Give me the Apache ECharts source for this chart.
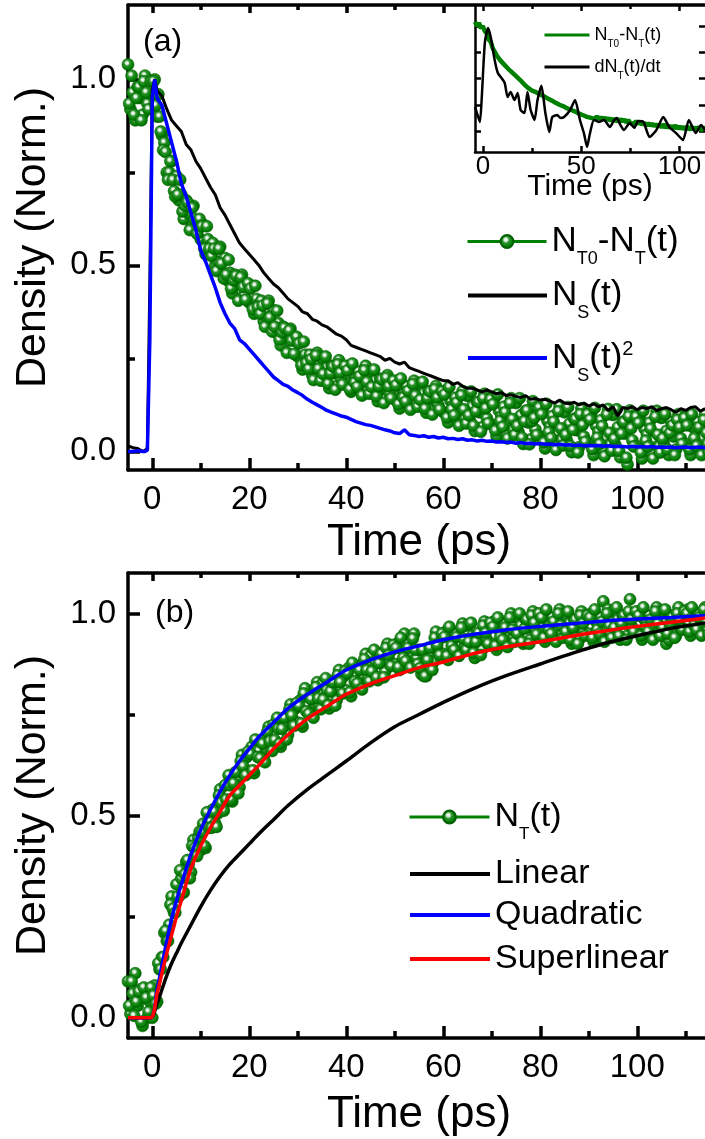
<!DOCTYPE html>
<html><head><meta charset="utf-8">
<script src="https://cdn.jsdelivr.net/npm/echarts@6/dist/echarts.min.js"></script>
<style>html,body{margin:0;padding:0;background:#fff}#c{width:705px;height:1139px}</style>
</head><body><div id="c"></div>
<script>
// ================= DATA =================
// Panel (a): singlet density N_S(t) and N_S(t)^2 (shared time base, ps)
const nsTime = [-5,-4,-3,-2,-1.5,-1,-0.5,0,0.5,1,
  2,3,4,5,6,7,8,9,10,11,12,13,14,15,16,17,18,19,20,21,22,23,24,25,26,27,28,29,30,31,
  32,33,34,35,36,37,38,39,40,41,42,43,44,45,46,47,48,49,50,51,52,53,54,55,56,57,58,59,60,61,
  62,63,64,65,66,67,68,69,70,71,72,73,74,75,76,77,78,79,80,81,82,83,84,85,86,87,88,89,90,91,
  92,93,94,95,96,97,98,99,100,101,102,103,104,105,106,107,108,109,110,111,112,113,114];
const nsValues = [0.015,0.01,0.008,0.0,0.002,0.01,0.45,0.97,1.0,0.97,
  0.955,0.92,0.89,0.875,0.86,0.825,0.81,0.78,0.76,0.735,
  0.71,0.69,0.655,0.635,0.61,0.585,0.56,0.545,0.53,0.515,
  0.50,0.48,0.465,0.45,0.44,0.425,0.41,0.40,0.39,0.375,
  0.37,0.355,0.35,0.34,0.335,0.325,0.315,0.31,0.30,0.285,
  0.28,0.275,0.27,0.265,0.26,0.255,0.245,0.25,0.24,0.235,
  0.24,0.225,0.22,0.215,0.21,0.205,0.20,0.195,0.19,0.19,
  0.18,0.185,0.175,0.17,0.17,0.165,0.16,0.165,0.16,0.155,
  0.158,0.15,0.152,0.148,0.145,0.15,0.14,0.142,0.138,0.14,
  0.135,0.13,0.138,0.13,0.128,0.132,0.125,0.13,0.122,0.128,
  0.12,0.125,0.11,0.12,0.095,0.118,0.115,0.12,0.112,0.118,
  0.115,0.12,0.11,0.115,0.118,0.112,0.105,0.115,0.11,0.118,
  0.12,0.108,0.115];
const ns2Values = [0.0,0.0,0.002,0.0,0.0,0.003,0.3,0.95,1.0,0.95,
  0.93,0.88,0.83,0.78,0.72,0.685,0.64,0.595,0.54,0.51,
  0.475,0.44,0.40,0.37,0.345,0.33,0.30,0.29,0.275,0.26,
  0.245,0.23,0.215,0.20,0.19,0.18,0.175,0.165,0.158,0.15,
  0.14,0.132,0.125,0.118,0.11,0.105,0.10,0.095,0.092,0.086,
  0.08,0.076,0.072,0.07,0.066,0.062,0.058,0.055,0.05,0.048,
  0.058,0.045,0.043,0.04,0.042,0.038,0.04,0.036,0.038,0.034,
  0.035,0.032,0.034,0.03,0.031,0.028,0.03,0.027,0.028,0.025,
  0.026,0.024,0.025,0.022,0.024,0.021,0.022,0.02,0.021,0.019,
  0.02,0.018,0.019,0.017,0.018,0.016,0.017,0.015,0.016,0.015,
  0.016,0.014,0.015,0.013,0.014,0.013,0.012,0.014,0.012,0.013,
  0.012,0.013,0.011,0.012,0.011,0.012,0.01,0.011,0.012,0.01,
  0.011,0.012,0.01];
// Panel (a): N_T0 - N_T(t); two interleaved read-outs, each every 0.5 ps
const greenStep = 0.5;
const ntDiffStart = -5;
const ntDiffValues = [
  1.04,0.92,0.965,0.89,0.98,0.95,0.905,1.01,0.935,0.98,
  0.96,1.0,0.90,0.90,0.85,0.83,0.75,0.75,0.78,0.70,
  0.74,0.675,0.69,0.625,0.675,0.64,0.60,0.66,0.60,0.62,
  0.57,0.61,0.53,0.57,0.55,0.56,0.50,0.51,0.55,0.48,
  0.52,0.46,0.48,0.425,0.475,0.45,0.41,0.475,0.42,0.445,
  0.40,0.445,0.37,0.41,0.395,0.405,0.35,0.36,0.405,0.335,
  0.38,0.32,0.345,0.285,0.335,0.31,0.27,0.33,0.275,0.30,
  0.255,0.295,0.22,0.26,0.245,0.26,0.205,0.22,0.265,0.20,
  0.25,0.195,0.225,0.17,0.23,0.21,0.175,0.245,0.195,0.22,
  0.18,0.23,0.16,0.205,0.195,0.215,0.16,0.18,0.23,0.165,
  0.215,0.16,0.19,0.135,0.195,0.17,0.14,0.205,0.155,0.18,
  0.14,0.19,0.115,0.165,0.155,0.175,0.12,0.14,0.19,0.13,
  0.18,0.128,0.156,0.104,0.162,0.14,0.108,0.176,0.124,0.152,
  0.106,0.164,0.078,0.136,0.122,0.144,0.082,0.104,0.162,0.088,
  0.149,0.083,0.121,0.055,0.132,0.105,0.065,0.155,0.089,0.127,
  0.072,0.14,0.041,0.109,0.094,0.12,0.048,0.075,0.143,0.058,
  0.13,0.053,0.097,0.02,0.109,0.078,0.032,0.135,0.059,0.103,
  0.04,0.114,0.008,0.082,0.066,0.095,0.019,0.048,0.122,0.031,
  0.105,0.029,0.074,-0.002,0.088,0.057,0.011,0.116,0.04,0.085,
  0.023,0.102,-0.01,0.069,0.053,0.084,0.004,0.035,0.114,0.018,
  0.098,0.017,0.065,-0.016,0.08,0.048,-0.035,0.11,0.03,0.077,
  0.013,0.093,-0.019,0.061,0.045,0.077,-0.003,0.029,0.109,0.013,
  0.09,0.02,0.055,-0.01,0.08,0.04,0.005,0.10,0.035,0.07,
  0.02,0.085,-0.01,0.065,0.04,0.08,0.0,0.035,0.10,0.02];
const ntDiffMidStart = -4.75;
const ntDiffMidValues = [
  0.935,1.01,0.905,0.95,0.98,0.89,0.995,0.965,0.92,0.995,
  0.995,0.93,0.96,0.86,0.81,0.805,0.73,0.78,0.73,0.685,
  0.69,0.73,0.645,0.66,0.67,0.595,0.655,0.625,0.585,0.625,
  0.605,0.545,0.605,0.545,0.525,0.545,0.485,0.545,0.505,0.465,
  0.475,0.515,0.438,0.46,0.472,0.405,0.468,0.442,0.408,0.452,
  0.438,0.382,0.445,0.388,0.37,0.392,0.335,0.398,0.36,0.322,
  0.335,0.378,0.30,0.32,0.332,0.265,0.325,0.298,0.262,0.308,
  0.29,0.232,0.295,0.238,0.222,0.248,0.192,0.258,0.222,0.19,
  0.208,0.255,0.182,0.21,0.228,0.166,0.234,0.212,0.18,0.23,
  0.218,0.167,0.236,0.185,0.174,0.202,0.15,0.218,0.187,0.155,
  0.173,0.22,0.148,0.175,0.193,0.13,0.198,0.175,0.143,0.19,
  0.178,0.127,0.196,0.145,0.134,0.163,0.112,0.181,0.15,0.12,
  0.139,0.187,0.115,0.143,0.161,0.099,0.167,0.145,0.113,0.161,
  0.153,0.091,0.173,0.113,0.097,0.131,0.069,0.151,0.113,0.075,
  0.097,0.161,0.069,0.108,0.133,0.053,0.143,0.116,0.076,0.14,
  0.127,0.056,0.153,0.082,0.066,0.105,0.035,0.13,0.087,0.044,
  0.069,0.143,0.037,0.081,0.11,0.019,0.081,0.09,0.044,0.118,
  0.10,0.024,0.128,0.052,0.036,0.08,0.004,0.108,0.062,0.016,
  0.045,0.119,0.014,0.058,0.087,-0.003,0.10,0.071,0.026,0.10,
  0.086,0.006,0.117,0.037,0.02,0.068,-0.013,0.099,0.05,0.002,
  0.034,0.113,0.001,0.048,0.079,-0.017,0.094,0.062,0.013,0.093,
  0.077,-0.003,0.109,0.029,0.013,0.061,-0.019,0.093,0.045,-0.003,
  0.035,0.10,0.005,0.05,0.07,-0.01,0.085,0.065,0.02,0.09,
  0.07,0.005,0.10,0.035,0.015,0.065,-0.01,0.085,0.05,0.0];
// Panel (b): N_T(t); two interleaved read-outs, each every 0.5 ps
const ntStart = -5;
const ntValues = [
  0.09,0.01,0.06,0.11,0.03,0.07,-0.02,0.05,0.0,0.04,
  0.0,0.08,0.04,0.12,0.15,0.21,0.19,0.23,0.30,0.26,
  0.33,0.30,0.345,0.31,0.385,0.38,0.36,0.44,0.405,0.445,
  0.415,0.48,0.42,0.485,0.485,0.515,0.48,0.505,0.565,0.52,
  0.575,0.535,0.575,0.535,0.605,0.59,0.57,0.65,0.605,0.645,
  0.61,0.67,0.605,0.66,0.66,0.685,0.64,0.665,0.72,0.67,
  0.725,0.68,0.715,0.67,0.74,0.725,0.70,0.775,0.73,0.765,
  0.73,0.785,0.72,0.815,0.77,0.795,0.75,0.775,0.83,0.77,
  0.825,0.78,0.81,0.765,0.83,0.81,0.785,0.86,0.81,0.845,
  0.81,0.865,0.795,0.85,0.845,0.87,0.82,0.845,0.90,0.84,
  0.895,0.85,0.88,0.835,0.90,0.88,0.855,0.925,0.88,0.91,
  0.875,0.925,0.86,0.91,0.95,0.925,0.875,0.90,0.95,0.89,
  0.91,0.85,0.845,0.845,0.915,0.90,0.88,0.955,0.905,0.94,
  0.90,0.955,0.885,0.94,0.93,0.95,0.905,0.925,0.975,0.92,
  0.97,0.92,0.945,0.89,0.95,0.935,0.91,0.98,0.935,0.965,
  0.925,0.98,0.91,0.96,0.955,0.975,0.925,0.95,1.0,0.94,
  0.99,0.94,0.97,0.925,0.985,0.965,0.935,1.005,0.96,0.99,
  0.95,1.0,0.93,0.98,0.97,0.99,0.94,0.96,1.01,0.95,
  0.995,0.945,0.975,0.925,0.985,0.965,0.935,1.005,0.955,0.985,
  0.95,1.0,0.93,0.98,0.97,0.99,1.03,0.96,1.01,0.95,
  1.005,0.955,0.985,0.935,0.995,0.975,0.945,1.035,0.965,0.995,
  0.955,1.005,0.935,0.985,0.975,0.995,0.945,0.965,1.015,0.955,
  1.005,0.955,0.925,0.935,0.995,0.975,0.945,1.015,0.965,0.995,
  0.96,1.01,0.945,0.99,0.98,1.0,0.95,0.97,1.015,0.96];
const ntMidStart = -4.75;
const ntMidValues = [
  0.03,0.09,0.005,0.04,0.065,-0.01,0.075,0.05,0.015,0.075,
  0.055,0.035,0.135,0.12,0.15,0.215,0.19,0.28,0.27,0.26,
  0.30,0.365,0.31,0.355,0.39,0.345,0.425,0.42,0.40,0.46,
  0.46,0.425,0.508,0.47,0.47,0.51,0.472,0.55,0.532,0.512,
  0.54,0.60,0.54,0.58,0.608,0.555,0.635,0.622,0.60,0.658,
  0.653,0.612,0.688,0.645,0.642,0.678,0.632,0.708,0.684,0.66,
  0.687,0.742,0.678,0.715,0.742,0.688,0.762,0.748,0.722,0.778,
  0.772,0.728,0.802,0.758,0.752,0.788,0.742,0.818,0.79,0.763,
  0.787,0.84,0.773,0.807,0.83,0.772,0.847,0.83,0.802,0.857,
  0.852,0.805,0.878,0.832,0.827,0.86,0.812,0.887,0.86,0.832,
  0.857,0.91,0.842,0.877,0.90,0.842,0.915,0.897,0.87,0.922,
  0.915,0.867,0.94,0.89,0.882,0.915,0.866,0.938,0.91,0.875,
  0.865,0.91,0.845,0.885,0.915,0.86,0.94,0.922,0.897,0.95,
  0.942,0.895,0.967,0.92,0.91,0.942,0.895,0.965,0.937,0.91,
  0.93,0.977,0.902,0.93,0.952,0.897,0.97,0.952,0.925,0.977,
  0.967,0.92,0.99,0.942,0.935,0.965,0.917,0.99,0.96,0.93,
  0.95,1.0,0.93,0.962,0.985,0.925,0.995,0.977,0.948,1.0,
  0.99,0.94,1.01,0.96,0.95,0.98,0.93,1.0,0.97,0.94,
  0.955,1.005,0.935,0.965,0.985,0.925,0.995,0.975,0.945,0.995,
  0.99,0.94,1.01,0.96,0.95,0.98,0.93,1.0,0.97,0.94,
  0.965,1.015,0.945,0.975,0.995,0.935,1.005,0.985,0.955,1.005,
  0.995,0.945,1.015,0.965,0.955,0.985,0.935,1.005,0.975,0.945,
  0.965,1.01,0.95,0.975,0.99,0.94,1.0,0.985,0.96,1.005,
  1.0,0.955,1.015,0.97,0.96,0.99,0.945,1.01,0.98,0.95];
// Panel (b): model curves
const fitTime = [-5,-0.4,1,2,3,4,5,6,8,10,12,14,16,18,20,22,25,28,32,36,40,45,50,55,60,66,72,80,87,94,100,107,115];
const linearFit = [0,0,0.035,0.07,0.105,0.135,0.16,0.185,0.23,0.275,0.315,0.35,0.38,0.405,0.43,0.455,0.49,0.525,0.565,0.60,0.635,0.68,0.72,0.75,0.78,0.813,0.842,0.875,0.903,0.928,0.945,0.963,0.978];
const quadraticFit = [0,0,0.07,0.13,0.19,0.245,0.29,0.33,0.405,0.465,0.515,0.56,0.60,0.635,0.665,0.695,0.73,0.765,0.80,0.83,0.86,0.885,0.905,0.92,0.935,0.948,0.958,0.968,0.975,0.982,0.986,0.99,0.995];
const superlinearFit = [0,0,0.06,0.11,0.16,0.205,0.25,0.29,0.37,0.425,0.47,0.51,0.55,0.575,0.60,0.625,0.665,0.70,0.74,0.77,0.80,0.826,0.846,0.866,0.88,0.90,0.915,0.93,0.945,0.958,0.968,0.978,0.99];
// Inset: N_T0-N_T(t) every 1 ps from -4 ps, and dN_T(t)/dt
const insetStart = -4, insetStep = 1;
const insetDiff = [1.04,1.0,1.03,0.98,1.0,0.95,0.93,0.87,0.85,0.79,
  0.78,0.72,0.71,0.67,0.67,0.63,0.63,0.59,0.595,0.555,
  0.56,0.52,0.52,0.485,0.485,0.445,0.445,0.41,0.42,0.385,
  0.395,0.37,0.38,0.35,0.365,0.33,0.34,0.31,0.32,0.29,
  0.30,0.27,0.28,0.25,0.26,0.235,0.245,0.215,0.23,0.20,
  0.21,0.185,0.195,0.165,0.18,0.15,0.165,0.135,0.15,0.125,
  0.14,0.115,0.14,0.11,0.135,0.105,0.13,0.10,0.125,0.095,
  0.12,0.09,0.12,0.085,0.115,0.09,0.11,0.08,0.105,0.075,
  0.09,0.07,0.095,0.065,0.09,0.06,0.08,0.05,0.075,0.05,
  0.07,0.045,0.065,0.04,0.06,0.035,0.065,0.03,0.055,0.03,
  0.05,0.025,0.055,0.02,0.045,0.02,0.04,0.015,0.045,0.01,
  0.04,0.015,0.035,0.01,0.04,0.005,0.035,0.015];
const dntTime = [-4,-3,-1.5,-0.5,1,2.6,4,6,7.6,9.1,11.1,12.6,14.1,16.1,17.7,19.2,21.2,22.7,24.3,26.3,27.8,29.8,31.8,33.8,35.3,37.8,39.5,41.3,44.4,46.9,49.4,51.4,53,54.5,56.5,59,61.6,64.6,66.5,68.1,70,71.7,74.7,77,79,81.7,84.8,88.3,91.8,94.8,98.3,101.8,104.8,108.3,111,113];
const dntValues = [0.23,0.17,0.086,0.34,0.84,0.98,0.895,0.676,0.552,0.514,0.457,0.324,0.371,0.295,0.362,0.2,0.171,0.371,0.2,0.105,0.295,0.43,0.171,-0.01,0.133,0.152,0.124,0.133,0.2,0.295,0.105,-0.02,-0.152,-0.02,0.105,0.086,0.105,0.038,0.095,0.124,0.057,0.01,0.076,0.03,0.095,0.086,-0.057,0.01,0.133,0.038,-0.02,-0.086,0.105,-0.02,0.057,0.01];
// Tick positions / labels
const xMajor = [0,20,40,60,80,100];
const xMinor = [10,30,50,70,90,110];
const xTopMajorA = [0,20,40,60];
const xTopMinorA = [10,30,50];
const yMajor = [0,0.5,1.0];
const yMinor = [0.25,0.75];
const insetXMajor = [0,50,100];
const insetXMinor = [25,75];
const insetYTicks = [0,0.25,0.5,0.75,1.0];

// ================= CHART =================
const FONT = "'Liberation Sans', Arial, Helvetica, sans-serif";
const GREEN = '#008000';
const zip = (xs, ys) => xs.map((x, i) => [x, ys[i]]);
const sampled = (start, step, ys) => ys.map((y, i) => [+(start + i * step).toFixed(2), y]);

function axis(o) {
  return {
    type: 'value', gridIndex: o.grid, position: o.pos, min: o.min, max: o.max,
    axisLine: {show: !!o.line, onZero: false, lineStyle: {color: '#000', width: o.lw}},
    axisTick: {show: true, inside: true, length: o.len, customValues: o.ticks,
               lineStyle: {color: '#000', width: o.lw}},
    axisLabel: o.labels ? Object.assign({show: true, customValues: o.labels, color: '#000',
               fontFamily: FONT}, o.labelStyle) : {show: false},
    splitLine: {show: false}, minorTick: {show: false}, minorSplitLine: {show: false},
    name: o.name || '', nameLocation: 'middle', nameGap: o.nameGap || 0, nameMoveOverlap: false,
    nameTextStyle: {color: '#000', fontFamily: FONT, fontSize: o.nameSize || 12},
    silent: true
  };
}
const LW = 3.5, ILW = 2.5;
const xAxes = [
  // grid 0 (a)
  axis({grid:0,pos:'bottom',min:-5,max:115,line:true,lw:LW,len:12,ticks:xMajor,labels:xMajor,
        labelStyle:{fontSize:33,margin:13},name:'Time (ps)',nameGap:51,nameSize:44}),
  axis({grid:0,pos:'bottom',min:-5,max:115,lw:LW,len:7,ticks:xMinor}),
  axis({grid:0,pos:'top',min:-5,max:115,line:true,lw:LW,len:8,ticks:xTopMajorA}),
  axis({grid:0,pos:'top',min:-5,max:115,lw:LW,len:5,ticks:xTopMinorA}),
  // grid 1 (b)
  axis({grid:1,pos:'bottom',min:-5,max:115,line:true,lw:LW,len:12,ticks:xMajor,labels:xMajor,
        labelStyle:{fontSize:33,margin:13},name:'Time (ps)',nameGap:55,nameSize:44}),
  axis({grid:1,pos:'bottom',min:-5,max:115,lw:LW,len:7,ticks:xMinor}),
  axis({grid:1,pos:'top',min:-5,max:115,line:true,lw:LW,len:8,ticks:xMajor}),
  axis({grid:1,pos:'top',min:-5,max:115,lw:LW,len:5,ticks:xMinor}),
  // grid 2 (inset)
  axis({grid:2,pos:'bottom',min:-4,max:113,line:true,lw:ILW,len:6,ticks:insetXMajor,labels:insetXMajor,
        labelStyle:{fontSize:26,margin:2},name:'Time (ps)',nameGap:20,nameSize:30}),
  axis({grid:2,pos:'bottom',min:-4,max:113,lw:ILW,len:4,ticks:insetXMinor}),
  axis({grid:2,pos:'top',min:-4,max:113,lw:ILW,len:6,ticks:insetXMajor}),
  axis({grid:2,pos:'top',min:-4,max:113,lw:ILW,len:4,ticks:insetXMinor})
];
const yFmt = v => Number(v).toFixed(1);
const yAxes = [
  axis({grid:0,pos:'left',min:-0.05,max:1.2,line:true,lw:LW,len:12,ticks:yMajor,labels:yMajor,
        labelStyle:{fontSize:33,margin:12,formatter:yFmt},name:'Density (Norm.)',nameGap:73,nameSize:43}),
  axis({grid:0,pos:'left',min:-0.05,max:1.2,lw:LW,len:7,ticks:yMinor}),
  axis({grid:1,pos:'left',min:-0.05,max:1.1,line:true,lw:LW,len:12,ticks:yMajor,labels:yMajor,
        labelStyle:{fontSize:33,margin:12,formatter:yFmt},name:'Density (Norm.)',nameGap:73,nameSize:43}),
  axis({grid:1,pos:'left',min:-0.05,max:1.1,lw:LW,len:7,ticks:yMinor}),
  axis({grid:2,pos:'left',min:-0.2,max:1.2,line:true,lw:ILW,len:6,ticks:insetYTicks}),
  axis({grid:2,pos:'right',min:-0.2,max:1.2,lw:ILW,len:6,ticks:insetYTicks})
];

const ball = {
  color: {type:'radial', x:0.42, y:0.38, r:0.62, colorStops:[
    {offset:0, color:'#ffffff'}, {offset:0.18, color:'#d8ecd8'}, {offset:0.38, color:'#2e922e'},
    {offset:0.75, color:'#008000'}, {offset:1, color:'#005c00'}]},
  borderColor:'#006000', borderWidth:0.6
};
function lineSeries(name, data, xi, yi, color, width, z, extra) {
  return Object.assign({type:'line', name, data, xAxisIndex:xi, yAxisIndex:yi, symbol:'none',
    lineStyle:{color, width}, itemStyle:{color}, z, silent:true, animation:false, clip:true}, extra || {});
}
function ballSeries(name, data, xi, yi) {
  return {type:'line', name, data, xAxisIndex:xi, yAxisIndex:yi, symbol:'circle', symbolSize:12,
    showSymbol:true, showAllSymbol:true, lineStyle:{width:0, color:GREEN}, itemStyle:ball, z:2,
    silent:true, animation:false};
}

const series = [
  ballSeries('gA', sampled(ntDiffStart, greenStep, ntDiffValues)
                     .concat(sampled(ntDiffMidStart, greenStep, ntDiffMidValues)), 0, 0),
  lineSeries('nsA', zip(nsTime, nsValues), 0, 0, '#000000', 3, 3),
  lineSeries('ns2A', zip(nsTime, ns2Values), 0, 0, '#0000ff', 3.5, 4),
  ballSeries('gB', sampled(ntStart, greenStep, ntValues)
                     .concat(sampled(ntMidStart, greenStep, ntMidValues)), 4, 2),
  lineSeries('linB', zip(fitTime, linearFit), 4, 2, '#000000', 3.5, 3, {smooth:0.3}),
  lineSeries('quadB', zip(fitTime, quadraticFit), 4, 2, '#0000ff', 3.5, 4, {smooth:0.3}),
  lineSeries('supB', zip(fitTime, superlinearFit), 4, 2, '#ff0000', 3.5, 5, {smooth:0.3}),
  lineSeries('gI', sampled(insetStart, insetStep, insetDiff), 8, 4, GREEN, 4.5, 3),
  lineSeries('dI', zip(dntTime, dntValues), 8, 4, '#000000', 2.5, 4, {smooth:0.2})
];

const LABELS = {
  gA:'{m|N}{s|T0}{m|-N}{s|T}{m|(t)}', nsA:'{m|N}{s|S}{m|(t)}', ns2A:'{m|N}{s|S}{m|(t)}{p|2}',
  gB:'{m|N}{s|T}{m|(t)}', linB:'{m|Linear}', quadB:'{m|Quadratic}', supB:'{m|Superlinear}',
  gI:'{m|N}{s|T0}{m|-N}{s|T}{m|(t)}', dI:'{m|dN}{s|T}{m|(t)/dt}'
};
function richSet(main, sub, shift, sup, supShift) {
  return {
    m:{fontSize:main, fontFamily:FONT, color:'#000', verticalAlign:'middle'},
    s:{fontSize:sub, fontFamily:FONT, color:'#000', verticalAlign:'middle', padding:[shift*2,0,0,0]},
    p:{fontSize:sup || sub, fontFamily:FONT, color:'#000', verticalAlign:'middle', padding:[0,0,(supShift||0)*2,0]}
  };
}
function legendItem(name, left, top, w, rich, lineW, color, withBall) {
  return {
    show:true, orient:'vertical', left, top, padding:0, itemGap:0, itemWidth:w,
    itemHeight: withBall ? 16 : 4,
    selectedMode:false, formatter: n => LABELS[n],
    textStyle:{color:'#000', fontFamily:FONT, rich},
    data:[withBall ? {name, lineStyle:{width:lineW, color, opacity:1}}
                   : {name, lineStyle:{width:lineW, color, opacity:1}, itemStyle:{opacity:0}}]
  };
}
const richA = richSet(35, 18, 18, 20, 9);
const richB = richSet(34, 17, 17);
const richI = richSet(18, 10, 9);
const legends = [
  legendItem('gA', 466, 224, 79, richA, 3, GREEN, true),
  legendItem('nsA', 466, 278, 79, richA, 4, '#000000'),
  legendItem('ns2A', 466, 339, 79, richA, 4, '#0000ff'),
  legendItem('gB', 408, 800, 80, richB, 3, GREEN, true),
  legendItem('linB', 408, 857, 80, richB, 4, '#000000'),
  legendItem('quadB', 408, 898, 80, richB, 4, '#0000ff'),
  legendItem('supB', 408, 942, 80, richB, 4, '#ff0000'),
  legendItem('gI', 543, 26, 45, richI, 3, GREEN),
  legendItem('dI', 543, 58, 45, richI, 3, '#000000')
];

const chart = echarts.init(document.getElementById('c'), null, {renderer:'canvas'});
chart.setOption({
  backgroundColor:'#ffffff',
  animation:false,
  textStyle:{fontFamily:FONT, color:'#000'},
  grid:[
    {left:128, top:5, width:582, height:465, outerBoundsMode:'none', containLabel:false},
    {left:128, top:573, width:582, height:465, outerBoundsMode:'none', containLabel:false},
    {left:475, top:5, width:230, height:147, outerBoundsMode:'none', containLabel:false}
  ],
  xAxis: xAxes,
  yAxis: yAxes,
  legend: legends,
  series,
  graphic:[
    {type:'text', x:143, y:42, silent:true, style:{text:'(a)', fontSize:32, fontFamily:FONT, fill:'#000', verticalAlign:'middle'}},
    {type:'text', x:155, y:613, silent:true, style:{text:'(b)', fontSize:32, fontFamily:FONT, fill:'#000', verticalAlign:'middle'}}
  ]
});
</script>
</body></html>
